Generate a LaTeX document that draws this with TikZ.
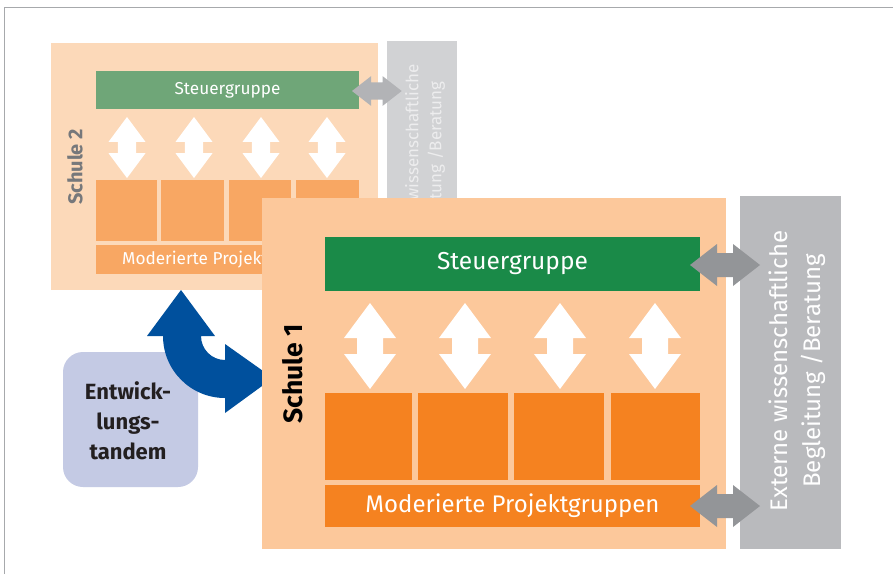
\documentclass[tikz,border=0pt]{standalone}
\usepackage{fontspec}
\setmainfont{Fira Sans}
\definecolor{framegray}{HTML}{A7A9AC}
\definecolor{sAbg}{HTML}{FCD9B9}
\definecolor{sAgray}{HTML}{D1D2D4}
\definecolor{sAgreen}{HTML}{6FA678}
\definecolor{sAorange}{HTML}{F8A763}
\definecolor{sAarrow}{HTML}{B2B3B6}
\definecolor{sAtext}{HTML}{76787B}
\definecolor{sAgtxt}{HTML}{EDEDEE}
\definecolor{sBbg}{HTML}{FCC89B}
\definecolor{sBgray}{HTML}{B9BABD}
\definecolor{sBgreen}{HTML}{1A8A48}
\definecolor{sBorange}{HTML}{F58220}
\definecolor{sBarrow}{HTML}{939598}
\definecolor{tandembg}{HTML}{C4CAE4}
\definecolor{tandemblue}{HTML}{00509D}
\definecolor{darktext}{HTML}{231F20}
% vertical white double arrow: #1 centre x, #2 top y, #3 scale
\newcommand\WArrow[3]{%
  \begin{scope}[shift={(#1,#2)},scale=#3]
    \fill[white] (0,0) -- (26,35) -- (13,35) -- (13,51) -- (26,51) -- (0,86)
      -- (-26,51) -- (-13,51) -- (-13,35) -- (-26,35) -- cycle;
  \end{scope}}
% horizontal grey double arrow: #1 left x, #2 centre y, #3 scale, #4 colour
\newcommand\GArrow[4]{%
  \begin{scope}[shift={(#1,#2)},scale=#3]
    \fill[#4] (0,0) -- (27,-21) -- (27,-12) -- (43,-12) -- (43,-21) -- (70,0)
      -- (43,21) -- (43,12) -- (27,12) -- (27,21) -- cycle;
  \end{scope}}
\tikzset{
  blk/.style={inner sep=0pt, outer sep=0pt, anchor=north west, draw=none},
  wtxt/.style={text=white, inner sep=0pt}
}
\begin{document}
\begin{tikzpicture}[x=1pt,y=-1pt]
\useasboundingbox (0,0) rectangle (893,574);
\fill[white] (0,0) rectangle (893,574);
\draw[framegray, line width=1.2pt] (4.5,574) -- (4.5,7.5) -- (893,7.5);

% ---------- Schule 2 ----------
\node[blk, fill=sAbg, minimum width=327pt, minimum height=247pt] (s2) at (51,43) {};
\node[blk, fill=sAgray, minimum width=70pt, minimum height=248pt] (g2) at (387,41) {};
\node[rotate=90, align=center, text=sAgtxt, font=\fontsize{17}{23}\selectfont] (g2t) at (425,164)
  {Externe wissenschaftliche\\Begleitung /Beratung};
\node[blk, fill=sAgreen, minimum width=263pt, minimum height=38pt] (st2) at (96,71) {};
\node[wtxt, font=\fontsize{17.2}{20}\selectfont] at (st2.center) {Steuergruppe};
\foreach \cx in {127,194,261,327} { \WArrow{\cx}{117}{0.71} }
\node[blk, fill=sAorange, minimum width=61pt, minimum height=61pt] (a1) at (96,180) {};
\node[blk, fill=sAorange, minimum width=63pt, minimum height=61pt] (a2) at (161,180) {};
\node[blk, fill=sAorange, minimum width=62pt, minimum height=61pt] (a3) at (229,180) {};
\node[blk, fill=sAorange, minimum width=63pt, minimum height=61pt] (a4) at (296,180) {};
\node[blk, fill=sAorange, minimum width=263pt, minimum height=29pt] (mp2) at (96,245) {};
\node[wtxt, font=\fontsize{17.2}{20}\selectfont] at (mp2.center) {Moderierte Projektgruppen};
\GArrow{352}{91}{0.71}{sAarrow}
\node[rotate=90, text=sAtext, font=\bfseries\fontsize{20}{23}\selectfont] (sch2) at (75,167) {Schule 2};

% ---------- Entwicklungstandem ----------
\node[blk, fill=tandembg, rounded corners=20pt, minimum width=135pt, minimum height=135pt] (tb) at (63,352) {};
\node[align=center, text=darktext, font=\bfseries\fontsize{22}{30}\selectfont] (tt) at (128,421)
  {Entwick-\\lungs-\\tandem};
\fill[tandemblue] (147,336) -- (181,290) -- (215,336) -- (201,336)
  arc[start angle=180, end angle=90, radius=24] -- (225,344) -- (273,378) -- (225,413) -- (225,398)
  arc[start angle=90, end angle=180, radius=62] -- cycle;

% ---------- Schule 1 ----------
\node[blk, fill=sBbg, minimum width=464pt, minimum height=351pt] (s1) at (262,198) {};
\node[blk, fill=sBgray, minimum width=101pt, minimum height=353pt] (g1) at (740,196) {};
\node[rotate=90, align=center, text=white, font=\fontsize{24}{33}\selectfont] (g1t) at (797,371)
  {Externe wissenschaftliche\\Begleitung /Beratung};
\node[blk, fill=sBgreen, minimum width=375pt, minimum height=54pt] (st1) at (325,237) {};
\node[wtxt, font=\fontsize{24.5}{28}\selectfont] at (st1.center) {Steuergruppe};
\foreach \cx in {370,465,560,655} { \WArrow{\cx}{303}{1} }
\node[blk, fill=sBorange, minimum width=87pt, minimum height=87pt] (b1) at (325,393) {};
\node[blk, fill=sBorange, minimum width=90pt, minimum height=87pt] (b2) at (418,393) {};
\node[blk, fill=sBorange, minimum width=90pt, minimum height=87pt] (b3) at (514,393) {};
\node[blk, fill=sBorange, minimum width=89pt, minimum height=87pt] (b4) at (611,393) {};
\node[blk, fill=sBorange, minimum width=375pt, minimum height=42pt] (mp1) at (325,485) {};
\node[wtxt, font=\fontsize{24}{27}\selectfont] at (mp1.center) {Moderierte Projektgruppen};
\GArrow{690}{265}{1}{sBarrow}
\GArrow{690}{506}{1}{sBarrow}
\node[rotate=90, text=black, font=\bfseries\fontsize{26.5}{30}\selectfont] (sch1) at (293,374) {Schule 1};
\end{tikzpicture}
\end{document}
